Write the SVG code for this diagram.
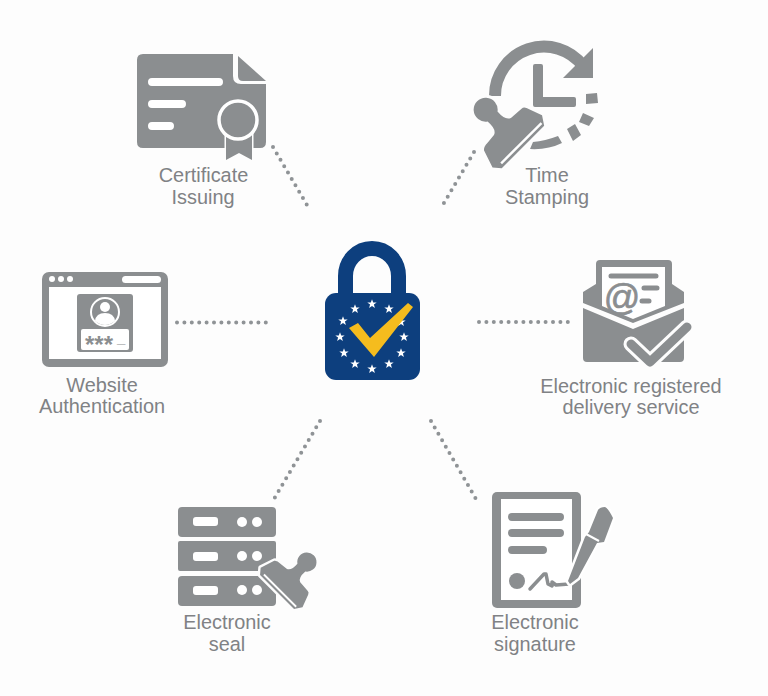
<svg xmlns="http://www.w3.org/2000/svg" width="768" height="696" viewBox="0 0 768 696">
<style>
.g{fill:#8b8e90}
.w{fill:#fff}
.gs{fill:none;stroke:#8b8e90;stroke-linecap:round;stroke-linejoin:round}
.ws{fill:none;stroke:#fff;stroke-linecap:round;stroke-linejoin:round}
.d{fill:none;stroke:#8f9396;stroke-width:4;stroke-linecap:round;stroke-dasharray:0 7.4}
text{font-family:"Liberation Sans",Arial,sans-serif;font-size:19.900px;fill:#808285;text-anchor:middle}
.star{fill:#fff}
</style>
<defs>
<g id="stamp">
<path class="g" stroke="#fdfdfd" stroke-width="6" paint-order="stroke" stroke-linejoin="round" d="M-36,0 L-30,-18 Q-28,-21 -22,-21 L-12,-22 Q-6,-24 -7,-36 A12,12 0 1 1 7,-36 Q6,-24 12,-22 L26,-21 Q29,-21 30,-18 L36,-2 L30,7 L-30,7 Z"/>
<rect class="w" x="-27" y="2" width="57" height="2.400"/>
</g>
<path id="s" d="M0,-4.800 L1.200,-1.500 L4.700,-1.500 L1.900,0.600 L2.900,4.100 L0,2 L-2.900,4.100 L-1.900,0.600 L-4.700,-1.500 L-1.200,-1.500 Z"/>
</defs>
<rect width="768" height="696" fill="#fdfdfd"/>
<g id="connectors">
<path class="d" d="M273,147L307,205"/>
<path class="d" d="M474,152L441,208"/>
<path class="d" d="M177,322.500H267"/>
<path class="d" d="M479,322H571"/>
<path class="d" d="M320,421L274,499"/>
<path class="d" d="M431,421L476,499"/>
</g>
<g id="center-lock">
<path fill="none" stroke="#0d3f7e" stroke-width="15" d="M345.500,300V276A26.500,27.500 0 0 1 398.500,276V300"/>
<rect x="325" y="293" width="95" height="87" rx="11" fill="#0d3f7e"/>
<g class="star">
<use href="#s" x="372" y="304"/><use href="#s" x="389" y="309"/><use href="#s" x="401" y="322"/><use href="#s" x="404" y="337"/><use href="#s" x="401" y="353"/><use href="#s" x="389" y="364"/><use href="#s" x="372" y="369"/><use href="#s" x="355" y="364"/><use href="#s" x="344" y="353"/><use href="#s" x="340" y="337"/><use href="#s" x="343" y="321"/><use href="#s" x="355" y="309"/>
</g>
<path fill="#f5bc1e" d="M349,328L358,323L370,338L408,303L413,307L374,357Z"/>
</g>
<g id="certificate-issuing">
<path class="g" d="M143,54H233V76Q233,84 241,84H266V142Q266,148 260,148H143Q137,148 137,142V60Q137,54 143,54Z"/>
<path class="g" d="M238,56L266,81H243Q238,81 238,76Z"/>
<path class="ws" stroke-width="8" d="M152,82H219M152,104H182M152,126H170"/>
<path class="g" stroke="#fdfdfd" stroke-width="3" paint-order="stroke" d="M226,130H252V160L239,153L226,160Z"/>
<path fill="#fdfdfd" d="M224,148H226V158L224,158ZM252,148H255V158L252,158Z"/>
<circle class="g" cx="238" cy="120" r="19" stroke="#fff" stroke-width="3.500"/>
<text x="203.500" y="182">Certificate</text>
<text x="203" y="204">Issuing</text>
</g>
<g id="time-stamping">
<path class="gs" stroke-width="12" style="stroke-linecap:butt" d="M495,96A49,49 0 0 1 583,66"/>
<path class="g" d="M593,48V78H563Z"/>
<path class="g" d="M533,66Q533,64 535,64H541Q543,64 543,66V97H574Q576,97 576,99V105Q576,107 574,107H535Q533,107 533,105Z"/>
<path class="g" d="M586,94L597,93L598,103L586,104ZM583,113L594,118L589,126L579,122ZM567,129L575,124L581,135L573,141ZM562,143Q548,150 530,149L533,142Q545,141 558,136Z"/>
<use href="#stamp" transform="translate(518,142) rotate(-45)"/>
<text x="547" y="182">Time</text>
<text x="547" y="204">Stamping</text>
</g>
<g id="website-authentication">
<rect class="g" x="42" y="272" width="126" height="95" rx="7"/>
<rect class="w" x="49" y="287" width="112" height="72"/>
<circle class="w" cx="52" cy="279" r="3"/><circle class="w" cx="61" cy="279" r="3"/><circle class="w" cx="70" cy="279" r="3"/>
<rect class="w" x="122" y="276" width="39" height="7" rx="3.500"/>
<rect class="g" x="77" y="294" width="56" height="58" rx="3"/>
<circle class="g" cx="105" cy="312" r="14" stroke="#fff" stroke-width="2"/>
<circle class="w" cx="105" cy="307" r="5"/>
<path class="w" d="M95,321Q96,313 105,313Q114,313 115,321Q105,329 95,321Z"/>
<rect class="w" x="81" y="329" width="48" height="21" rx="2"/>
<text x="85" y="352.500" style="font-size:24px;font-weight:bold;fill:#8b8e90;text-anchor:start">***<tspan dx="4" dy="-9.500" style="font-size:15px">_</tspan></text>
<text x="102" y="392">Website</text>
<text x="102" y="413">Authentication</text>
</g>
<g id="electronic-registered-delivery">
<path class="g" d="M583,292L596,284V264Q596,260 600,260H668Q672,260 672,264V284L684,292V303L633,323L583,303Z"/>
<path class="w" d="M602,267H665V306L633,319L602,306Z"/>
<path class="gs" stroke-width="5" d="M611,276H656M644,288H657M642,301H649"/>
<text x="622" y="310" style="font-size:36px;fill:#8b8e90;stroke:#8b8e90;stroke-width:.7">@</text>
<path class="g" d="M583,308L633,329L684,308V358Q684,362 680,362H587Q583,362 583,358Z"/>
<path class="ws" stroke-width="15" style="stroke:#fdfdfd" d="M631,344L650,362L687,327"/>
<path class="gs" stroke-width="9" d="M631,344L650,362L687,327"/>
<text x="631" y="393">Electronic registered</text>
<text x="631" y="414">delivery service</text>
</g>
<g id="electronic-seal">
<rect class="g" x="178" y="507" width="98" height="30" rx="4"/>
<rect class="g" x="178" y="541" width="98" height="30" rx="2"/>
<rect class="g" x="178" y="576" width="98" height="30" rx="4"/>
<rect class="w" x="193" y="517" width="25" height="9" rx="3"/><rect class="w" x="193" y="552" width="25" height="9" rx="3"/><rect class="w" x="193" y="586" width="25" height="9" rx="3"/>
<circle class="w" cx="242" cy="522" r="5"/><circle class="w" cx="257" cy="522" r="5"/>
<circle class="w" cx="242" cy="556" r="5"/><circle class="w" cx="257" cy="556" r="5"/>
<circle class="w" cx="242" cy="590" r="5"/><circle class="w" cx="257" cy="590" r="5"/>
<use href="#stamp" transform="translate(281,588) rotate(45) scale(.8)"/>
<text x="227" y="629">Electronic</text>
<text x="227" y="651">seal</text>
</g>
<g id="electronic-signature">
<rect class="g" x="492" y="492" width="89" height="116" rx="5"/>
<rect class="w" x="501" y="499" width="71" height="101"/>
<path class="gs" stroke-width="8" d="M512,517H560M512,533H560M512,550H543"/>
<circle class="g" cx="517" cy="581" r="8"/>
<path class="gs" stroke-width="3.500" d="M530,589L544,574L546,574L548,584L552,586L552,582L556,585L569,584"/>
<path class="g" stroke="#fff" stroke-width="5" paint-order="stroke" stroke-linejoin="round" d="M568,581L585,537L589,532L598,510Q600,507 605,507Q608,508 613,518L604,542L597,543L578,578L570,584Z"/>
<path class="ws" stroke-width="2" style="stroke-linecap:butt" d="M586,534L599,541"/>
<text x="535" y="629">Electronic</text>
<text x="535" y="651">signature</text>
</g>
</svg>
